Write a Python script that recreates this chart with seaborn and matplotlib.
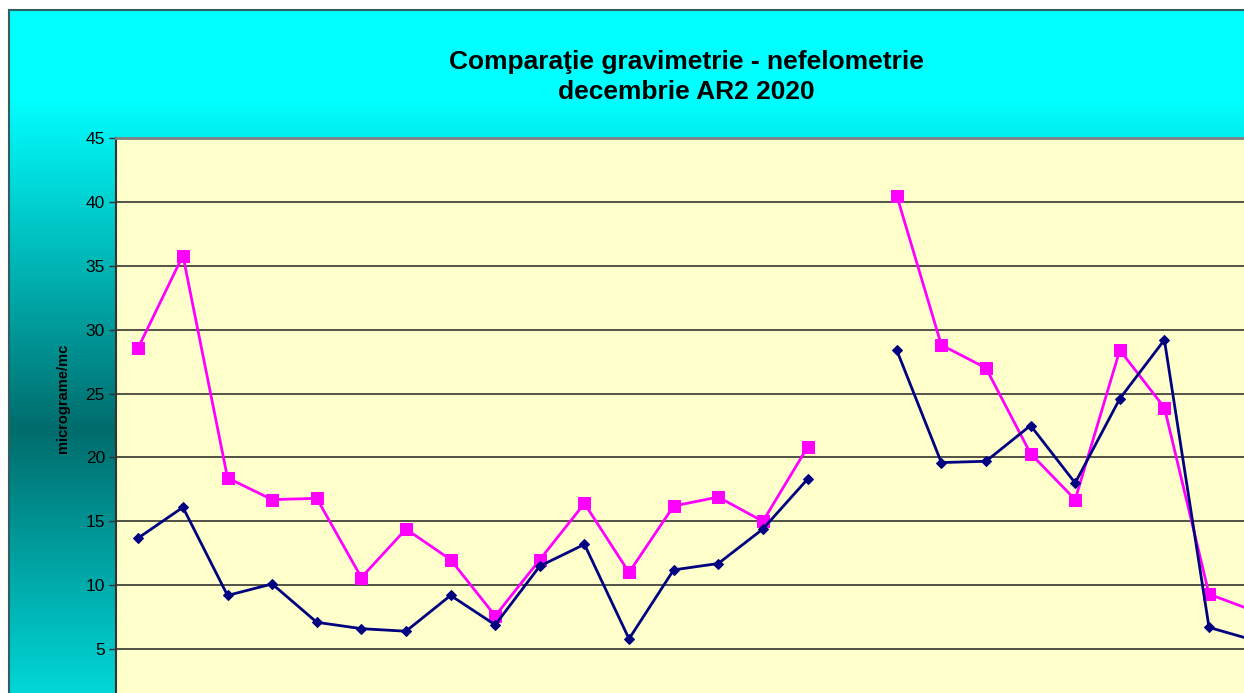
import numpy as np
import pandas as pd
import matplotlib
matplotlib.use('Agg')
import matplotlib.pyplot as plt
import seaborn as sns

# December days (categories)
days = list(range(1, 32))

# values (NaN = no data / outside the visible crop)
nefelometrie = [28.6, 35.8, 18.4, 16.7, 16.8, 10.6, 14.4, 12.0, 7.6, 12.0,
                16.4, 11.0, 16.2, 16.9, 15.0, 20.8, np.nan, 40.5, 28.8, 27.0,
                20.3, 16.7, 28.4, 23.9, 9.3, 8.0, np.nan, np.nan, np.nan, np.nan, np.nan]
gravimetrie = [13.7, 16.1, 9.2, 10.1, 7.1, 6.6, 6.4, 9.2, 6.9, 11.5,
               13.2, 5.8, 11.2, 11.7, 14.4, 18.3, np.nan, 28.4, 19.6, 19.7,
               22.5, 18.0, 24.6, 29.2, 6.7, 5.7, np.nan, np.nan, np.nan, np.nan, np.nan]

yticks = [5, 10, 15, 20, 25, 30, 35, 40, 45]
title = 'Comparaţie gravimetrie - nefelometrie\ndecembrie AR2 2020'
ylabel = 'micrograme/mc'

df = pd.DataFrame({'day': days, 'nef': nefelometrie, 'grav': gravimetrie})
df['pos'] = df['day'] - 1
# break the line where a day is missing
df['seg'] = df['nef'].isna().cumsum()

sns.set_style('white')
plt.rcParams['font.family'] = ['Liberation Sans', 'DejaVu Sans']
plt.rcParams['text.color'] = 'black'
plt.rcParams['axes.labelcolor'] = 'black'
plt.rcParams['ytick.labelcolor'] = 'black'

W, H = 1244, 693
fig = plt.figure(figsize=(W / 100, H / 100), dpi=100)
fig.patch.set_facecolor('white')

# chart area background: vertical cyan / teal gradient
bg = fig.add_axes([9 / W, -0.1, 1.0, (H - 10) / H + 0.1])
rows = np.arange(10, 763)
level = np.interp(rows, [10, 100, 430, 762], [255, 255, 108, 243]) / 255
grad = np.zeros((len(rows), 1, 3))
grad[:, 0, 1] = level
grad[:, 0, 2] = level
bg.imshow(grad, aspect='auto', extent=[0, 1, 762, 10])
bg.set_xlim(0, 1)
bg.set_ylim(762, 10)
bg.set_xticks([])
bg.set_yticks([])
for s in bg.spines.values():
    s.set_color('#2f5f5f')
    s.set_linewidth(1.5)

# plot area
ax = fig.add_axes([116 / W, (H - 713) / H, 1383 / W, (713 - 138) / H])
ax.set_facecolor('#FFFFCC')

sns.lineplot(data=df, x='pos', y='nef', units='seg', estimator=None, ax=ax,
             color='#FF00FF', linewidth=2.0, marker='s', markersize=8.5,
             markeredgecolor='#FF00FF', zorder=4)
sns.lineplot(data=df, x='pos', y='grav', units='seg', estimator=None, ax=ax,
             color='#000080', linewidth=2.0, marker='D', markersize=5.5,
             markeredgecolor='#000080', zorder=5)

ax.set_xlim(-0.5, len(days) - 0.5)
ax.set_ylim(0, 45)
ax.set_yticks(yticks)
ax.set_yticklabels([str(t) for t in yticks], fontsize=12.5)
ax.set_xticks([])
ax.set_xlabel('')
ax.set_ylabel(ylabel, fontsize=10.5, fontweight='bold')
ax.yaxis.set_label_coords(-46 / 1383, (713 - 398) / 575)
ax.yaxis.grid(True, color='#222222', linewidth=1.1)
ax.set_axisbelow(True)
ax.tick_params(axis='y', direction='out', length=5, width=1, color='#333333', pad=3, left=True)
ax.spines['left'].set_color('#333333')
ax.spines['left'].set_linewidth(1.5)
ax.spines['top'].set_color('#808080')
ax.spines['top'].set_linewidth(2)
ax.spines['right'].set_visible(False)
ax.spines['bottom'].set_visible(False)

fig.text(686 / W, 1 - 77 / H, title, ha='center', va='center', color='black',
         fontsize=19, fontweight='bold', linespacing=1.27)

fig.savefig('out.png', dpi=100)
